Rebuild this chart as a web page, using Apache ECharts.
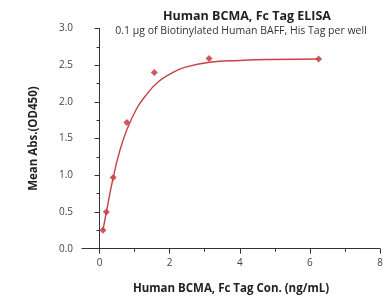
<!DOCTYPE html>
<html>
<head>
<meta charset="utf-8">
<script src="https://cdn.jsdelivr.net/npm/echarts@6/dist/echarts.min.js"></script>
<style>
  html, body { margin: 0; padding: 0; background: #fff; }
  #chart { width: 384px; height: 298px; }
</style>
</head>
<body>
<div id="chart"></div>
<script>
// measured points
var concX = [0.098, 0.195, 0.39, 0.78, 1.5625, 3.125, 6.25];
var meanAbs = [0.25, 0.50, 0.97, 1.72, 2.40, 2.59, 2.585];

// fitted curve
var fitX = [0.098, 0.195, 0.39, 0.57, 0.78, 1.05, 1.29, 1.67, 2.05, 2.43, 3.14, 4.0, 4.86, 6.25];
var fitY = [0.25, 0.50, 0.97, 1.32, 1.62, 1.90, 2.07, 2.27, 2.39, 2.47, 2.54, 2.565, 2.578, 2.585];

var xMajor = [0, 2, 4, 6, 8];
var xMinor = [1, 3, 5, 7];

var pts = [], fit = [];
for (var i in concX) {
    pts.push([concX[i], meanAbs[i]]);
}
for (var j in fitX) {
    fit.push([fitX[j], fitY[j]]);
}

var axisColor = '#333';
var labelColor = '#444';
var lineRed = '#c8414a';

var chart = echarts.init(document.getElementById('chart'));
var option = {
    animation: false,
    title: [{
        text: 'Human BCMA, Fc Tag ELISA',
        left: 242, top: 5, textAlign: 'center',
        textStyle: {fontSize: 12.5, fontWeight: 'bold', color: '#222', fontFamily: 'Open Sans'}
    }, {
        text: '0.1 μg of Biotinylated Human BAFF, His Tag per well',
        left: 236, top: 21, textAlign: 'center',
        textStyle: {fontSize: 10.5, fontWeight: 'normal', color: '#333', fontFamily: 'Open Sans'}
    }],
    grid: {left: 82, right: 4, top: 28.5, bottom: 49.3, containLabel: false, outerBoundsMode: 'none'},
    xAxis: [{
        type: 'value', min: -0.5, max: 8,
        name: 'Human BCMA, Fc Tag Con. (ng/mL)',
        nameLocation: 'middle', nameGap: 34,
        nameTextStyle: {fontSize: 11.5, fontWeight: 'bold', color: '#222', fontFamily: 'Open Sans'},
        axisLine: {show: true, lineStyle: {color: axisColor, width: 1}},
        axisTick: {show: true, customValues: xMajor, length: 5, lineStyle: {color: axisColor}},
        axisLabel: {customValues: xMajor, color: labelColor, fontSize: 10, margin: 9, fontFamily: 'Open Sans'},
        splitLine: {show: false}
    }, {
        type: 'value', min: -0.5, max: 8, position: 'bottom',
        axisLine: {show: true, lineStyle: {color: 'rgba(0,0,0,0)'}},
        axisTick: {show: true, customValues: xMinor, length: 3, lineStyle: {color: axisColor}},
        axisLabel: {show: true, customValues: xMinor, color: 'rgba(0,0,0,0)'},
        splitLine: {show: false}
    }],
    yAxis: {
        type: 'value', min: 0, max: 3, interval: 0.5,
        name: 'Mean Abs.(OD450)',
        nameLocation: 'middle', nameGap: 42,
        nameTextStyle: {fontSize: 11.5, fontWeight: 'bold', color: '#222', fontFamily: 'Open Sans'},
        axisLine: {show: true, lineStyle: {color: axisColor, width: 1}},
        axisTick: {show: true, length: 5, lineStyle: {color: axisColor}},
        minorTick: {show: true, splitNumber: 2, length: 3, lineStyle: {color: axisColor}},
        axisLabel: {
            color: labelColor, fontSize: 10, margin: 9, fontFamily: 'Open Sans',
            formatter: function (v) { return v.toFixed(1); }
        },
        splitLine: {show: false}
    },
    series: [{
        name: 'fit', type: 'line', data: fit, smooth: 0.5,
        showSymbol: false, symbol: 'none',
        lineStyle: {color: lineRed, width: 1.4}
    }, {
        name: 'points', type: 'scatter', data: pts,
        symbol: 'diamond', symbolSize: 7,
        itemStyle: {color: '#c0303a'}
    }]
};
chart.setOption(option);
</script>
</body>
</html>
